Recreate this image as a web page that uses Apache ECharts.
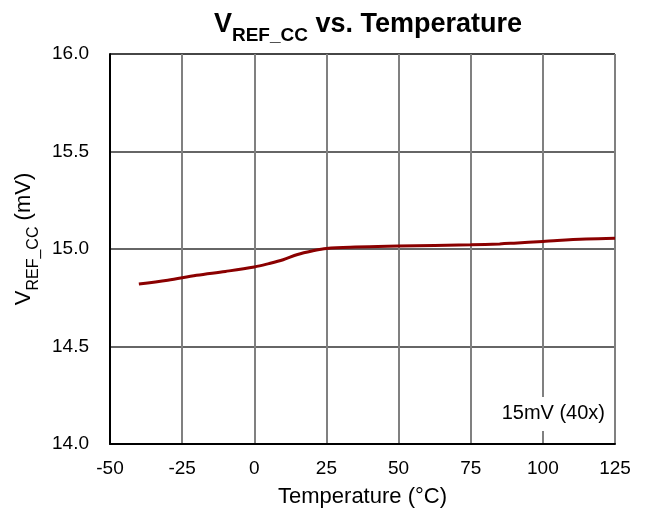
<!DOCTYPE html>
<html>
<head>
<meta charset="utf-8">
<script src="https://cdn.jsdelivr.net/npm/echarts@6/dist/echarts.min.js"></script>
<style>html,body{margin:0;padding:0;background:#fff}#c{width:650px;height:516px}</style>
</head>
<body>
<div id="c"></div>
<script>
const temperatures = [-40, -30, -20, -10, 0, 5, 10, 15, 20, 25, 35, 50, 75, 85, 90, 100, 105, 115, 125];
const vrefValues = [14.82, 14.84, 14.865, 14.885, 14.908, 14.925, 14.945, 14.972, 14.99, 15.003, 15.01, 15.015, 15.022, 15.026, 15.03, 15.039, 15.044, 15.051, 15.055];
const xTicks = [-50, -25, 0, 25, 50, 75, 100, 125];
const yTicks = [14.0, 14.5, 15.0, 15.5, 16.0];
const annotation = '15mV (40x)';

const chart = echarts.init(document.getElementById('c'), null, {renderer: 'canvas'});
const FONT = 'Liberation Sans, Arial, sans-serif';
chart.setOption({
  animation: false,
  backgroundColor: '#fff',
  title: {
    text: '{v|V}{s|REF_CC}{v| vs. Temperature}',
    left: 363, top: 1, textAlign: 'center',
    textStyle: {
      rich: {
        v: {fontFamily: FONT, fontWeight: 'bold', fontSize: 27, color: '#000', verticalAlign: 'bottom', lineHeight: 32},
        s: {fontFamily: FONT, fontWeight: 'bold', fontSize: 19, color: '#000', verticalAlign: 'bottom', lineHeight: 32, padding: [0, 0, -7, 0]}
      }
    }
  },
  grid: {left: 110, right: 35, top: 54, bottom: 72, show: true, borderColor: '#000', borderWidth: 1},
  xAxis: {
    type: 'value', min: xTicks[0], max: xTicks[xTicks.length - 1], interval: 25,
    name: 'Temperature (°C)', nameLocation: 'middle', nameGap: 42,
    nameTextStyle: {fontFamily: FONT, fontSize: 22, color: '#000'},
    axisLine: {show: true, onZero: false, lineStyle: {color: '#000', width: 2}},
    axisTick: {show: false},
    axisLabel: {fontFamily: FONT, fontSize: 19, color: '#000', margin: 15},
    splitLine: {show: true, lineStyle: {color: '#808080', width: 2}}
  },
  yAxis: {
    type: 'value', min: yTicks[0], max: yTicks[yTicks.length - 1], interval: 0.5,
    name: '{v|V}{s|REF_CC}{v| (mV)}', nameLocation: 'middle', nameGap: 70, nameRotate: 90,
    nameTextStyle: {
      padding: [0, 0, 0, 20],
      rich: {
        v: {fontFamily: FONT, fontSize: 22, color: '#000', verticalAlign: 'bottom', lineHeight: 28},
        s: {fontFamily: FONT, fontSize: 16, color: '#000', verticalAlign: 'bottom', lineHeight: 28, padding: [0, 0, -6, 0]}
      }
    },
    axisLine: {show: true, onZero: false, lineStyle: {color: '#000', width: 2}},
    axisTick: {show: false},
    axisLabel: {fontFamily: FONT, fontSize: 19, color: '#000', margin: 21, formatter: v => v.toFixed(1)},
    splitLine: {show: true, lineStyle: {color: '#333', width: 1.5}}
  },
  series: [{
    type: 'line',
    data: temperatures.map((t, i) => [t, vrefValues[i]]),
    smooth: 0.35,
    showSymbol: false,
    lineStyle: {color: '#8B0000', width: 3}
  }],
  graphic: [{
    type: 'text', right: 42, top: 397, z: 100,
    style: {text: annotation, font: '20px ' + FONT, fill: '#000', backgroundColor: '#fff', padding: [6, 3, 8, 3]}
  }]
});
</script>
</body>
</html>
